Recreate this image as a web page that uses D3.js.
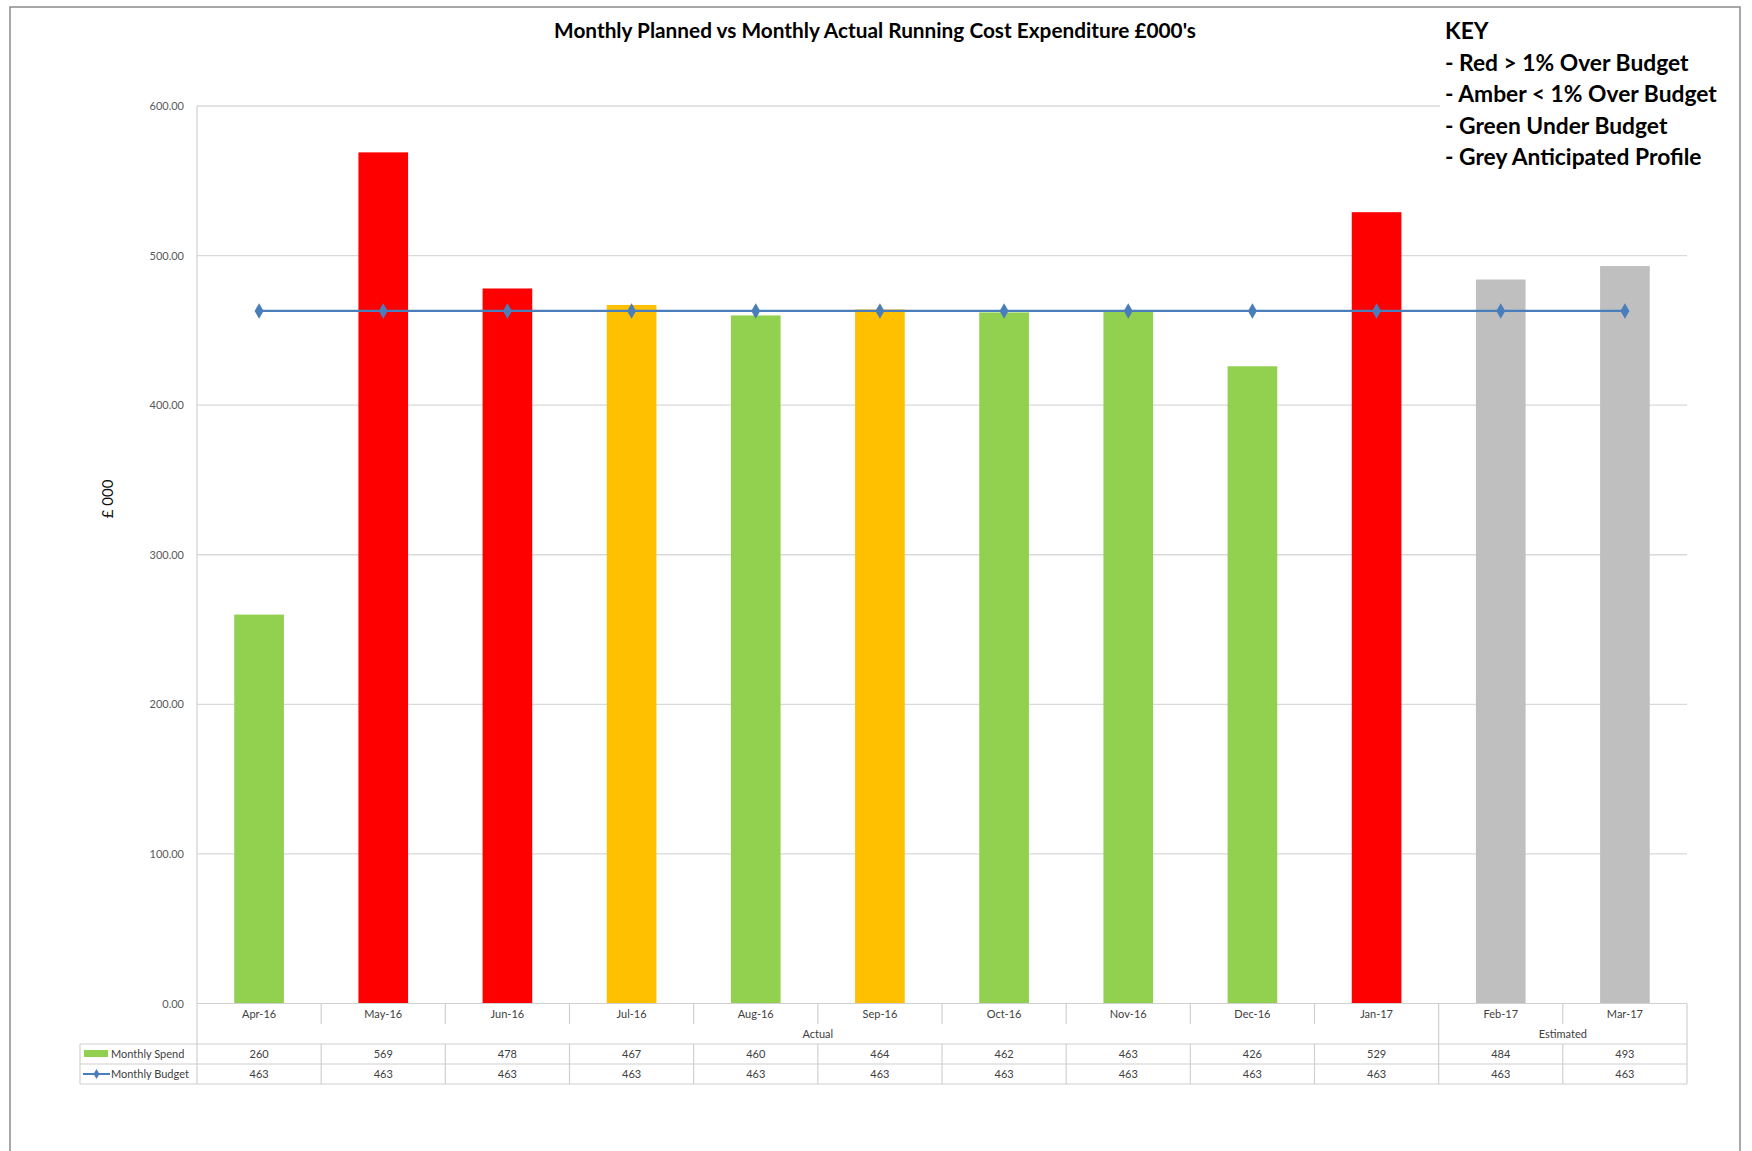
<!DOCTYPE html>
<html>
<head>
<meta charset="utf-8">
<script src="https://cdn.jsdelivr.net/npm/d3@7"></script>
<style>
  body { margin: 0; background: #fff; }
  text { font-family: Lato, "Open Sans", sans-serif; }
</style>
</head>
<body>
<script>
const months = ['Apr-16', 'May-16', 'Jun-16', 'Jul-16', 'Aug-16', 'Sep-16', 'Oct-16', 'Nov-16', 'Dec-16', 'Jan-17', 'Feb-17', 'Mar-17']
const spend = [260, 569, 478, 467, 460, 464, 462, 463, 426, 529, 484, 493]
const budget = [463, 463, 463, 463, 463, 463, 463, 463, 463, 463, 463, 463]
const period = ['Actual', 'Actual', 'Actual', 'Actual', 'Actual', 'Actual', 'Actual', 'Actual', 'Actual', 'Actual', 'Estimated', 'Estimated']
const groups = ['Actual', 'Estimated']
const yTicks = [0, 100, 200, 300, 400, 500, 600]
const keyLines = ['KEY', '- Red > 1% Over Budget', '- Amber < 1% Over Budget', '- Green Under Budget', '- Grey Anticipated Profile']

const W = 1752, H = 1151
const plot = {left: 197, right: 1687, top: 106, bottom: 1003.5}
const tableLeft = 80
const rowLines = [1044, 1064, 1084]

const svg = d3.select('body').append('svg')
    .attr('width', W)
    .attr('height', H)

svg.append('rect')
    .attr('x', 10).attr('y', 7)
    .attr('width', 1730).attr('height', 1200)
    .attr('fill', '#fff')
    .attr('stroke', '#8c8c8c')
    .attr('stroke-width', 1.5)

const x = d3.scaleBand()
    .domain(months)
    .range([plot.left, plot.right])
    .paddingInner(0.6)
    .paddingOuter(0.3)

const y = d3.scaleLinear()
    .domain([0, 600])
    .range([plot.bottom, plot.top])

const cx = m => x(m) + x.bandwidth() / 2
const step = x.step()
const edge = i => plot.left + i * step

// colour rule from the key
function barColour(i) {
    if (period[i] === 'Estimated') return '#bfbfbf'
    const over = (spend[i] - budget[i]) / budget[i]
    if (over > 0.01) return '#ff0000'
    if (over > 0) return '#ffc000'
    return '#92d050'
}

// gridlines
svg.append('g')
    .selectAll('line')
    .data(yTicks.slice(1))
    .join('line')
    .attr('x1', plot.left).attr('x2', plot.right)
    .attr('y1', d => y(d)).attr('y2', d => y(d))
    .attr('stroke', '#d9d9d9')
    .attr('stroke-width', 1.3)

// y axis labels
const yAxis = svg.append('g')
    .attr('transform', `translate(${plot.left - 6},0)`)
    .call(d3.axisLeft(y).tickValues(yTicks).tickFormat(d3.format('.2f')).tickSize(0).tickPadding(7))
yAxis.select('.domain').remove()
yAxis.selectAll('text')
    .attr('fill', '#595959')
    .style('font-size', '11px')
    .style('font-family', 'Lato, sans-serif')

svg.append('text')
    .attr('transform', 'translate(113,499) rotate(-90)')
    .attr('text-anchor', 'middle')
    .attr('fill', '#111')
    .style('font-size', '15px')
    .text('£ 000')

// bars
svg.append('g')
    .selectAll('rect')
    .data(spend)
    .join('rect')
    .attr('x', (d, i) => x(months[i]))
    .attr('y', d => y(d))
    .attr('width', x.bandwidth())
    .attr('height', d => y(0) - y(d))
    .attr('fill', (d, i) => barColour(i))

// budget line
const line = d3.line()
    .x((d, i) => cx(months[i]))
    .y(d => y(d))

svg.append('path')
    .datum(budget)
    .attr('d', line)
    .attr('fill', 'none')
    .attr('stroke', '#4a7ebb')
    .attr('stroke-width', 2.2)

const diamond = d3.symbol().type(d3.symbolDiamond).size(70)
svg.append('g')
    .selectAll('path')
    .data(budget)
    .join('path')
    .attr('transform', (d, i) => `translate(${cx(months[i])},${y(d)})`)
    .attr('d', diamond)
    .attr('fill', '#4a7ebb')

// axis + table lines
const grid = svg.append('g').attr('stroke', '#d0d0d0').attr('stroke-width', 1.2)
grid.append('line')
    .attr('x1', plot.left).attr('x2', plot.right)
    .attr('y1', plot.bottom).attr('y2', plot.bottom)
grid.append('line')
    .attr('x1', plot.left).attr('x2', plot.left)
    .attr('y1', plot.top).attr('y2', rowLines[2])
grid.append('line')
    .attr('x1', plot.right).attr('x2', plot.right)
    .attr('y1', plot.bottom).attr('y2', rowLines[2])

// category separators in the label row, group boundary runs down
let groupStart = [0]
for (let i = 1; i < months.length; i++) if (period[i] !== period[i - 1]) groupStart.push(i)
for (let i = 1; i < months.length; i++) {
    const isGroup = groupStart.includes(i)
    grid.append('line')
        .attr('x1', edge(i)).attr('x2', edge(i))
        .attr('y1', plot.bottom).attr('y2', isGroup ? rowLines[0] : 1024)
    grid.append('line')
        .attr('x1', edge(i)).attr('x2', edge(i))
        .attr('y1', rowLines[0]).attr('y2', rowLines[2])
}
rowLines.forEach(ly => {
    grid.append('line')
        .attr('x1', tableLeft).attr('x2', plot.right)
        .attr('y1', ly).attr('y2', ly)
})
grid.append('line')
    .attr('x1', tableLeft).attr('x2', tableLeft)
    .attr('y1', rowLines[0]).attr('y2', rowLines[2])

const small = {size: '11px', fill: '#404040'}

// month labels
svg.append('g')
    .selectAll('text')
    .data(months)
    .join('text')
    .attr('x', d => cx(d))
    .attr('y', 1018)
    .attr('text-anchor', 'middle')
    .attr('fill', small.fill)
    .style('font-size', small.size)
    .text(d => d)

// group labels
svg.append('g')
    .selectAll('text')
    .data(groups)
    .join('text')
    .attr('x', g => {
        const idx = months.map((m, i) => i).filter(i => period[i] === g)
        return (edge(idx[0]) + edge(idx[idx.length - 1] + 1)) / 2
    })
    .attr('y', 1038)
    .attr('text-anchor', 'middle')
    .attr('fill', small.fill)
    .style('font-size', small.size)
    .text(g => g)

// table values
const rows = [
    {name: 'Monthly Spend', values: spend},
    {name: 'Monthly Budget', values: budget}
]
rows.forEach((r, ri) => {
    const ty = rowLines[ri] + 14
    svg.append('g')
        .selectAll('text')
        .data(r.values)
        .join('text')
        .attr('x', (d, i) => cx(months[i]))
        .attr('y', ty)
        .attr('text-anchor', 'middle')
        .attr('fill', small.fill)
        .style('font-size', small.size)
        .text(d => d)
    svg.append('text')
        .attr('x', 111)
        .attr('y', ty)
        .attr('fill', small.fill)
        .style('font-size', small.size)
        .text(r.name)
})

// legend keys in table
svg.append('rect')
    .attr('x', 84).attr('y', rowLines[0] + 6)
    .attr('width', 24).attr('height', 7)
    .attr('fill', '#92d050')
svg.append('line')
    .attr('x1', 83).attr('x2', 110)
    .attr('y1', rowLines[1] + 10).attr('y2', rowLines[1] + 10)
    .attr('stroke', '#4a7ebb').attr('stroke-width', 2)
svg.append('path')
    .attr('transform', `translate(96.5,${rowLines[1] + 10})`)
    .attr('d', d3.symbol().type(d3.symbolDiamond).size(30))
    .attr('fill', '#4a7ebb')

// title
svg.append('text')
    .attr('x', 875)
    .attr('y', 38)
    .attr('text-anchor', 'middle')
    .attr('fill', '#000')
    .style('font-size', '20.8px')
    .style('font-weight', 'bold')
    .text("Monthly Planned vs Monthly Actual Running Cost Expenditure £000's")

// key box
svg.append('rect')
    .attr('x', 1440).attr('y', 14)
    .attr('width', 298).attr('height', 160)
    .attr('fill', '#fff')
svg.append('g')
    .selectAll('text')
    .data(keyLines)
    .join('text')
    .attr('x', 1445)
    .attr('y', (d, i) => 39 + i * 31.5)
    .attr('fill', '#000')
    .style('font-size', '22.8px')
    .style('font-weight', 'bold')
    .text(d => d)
</script>
</body>
</html>
